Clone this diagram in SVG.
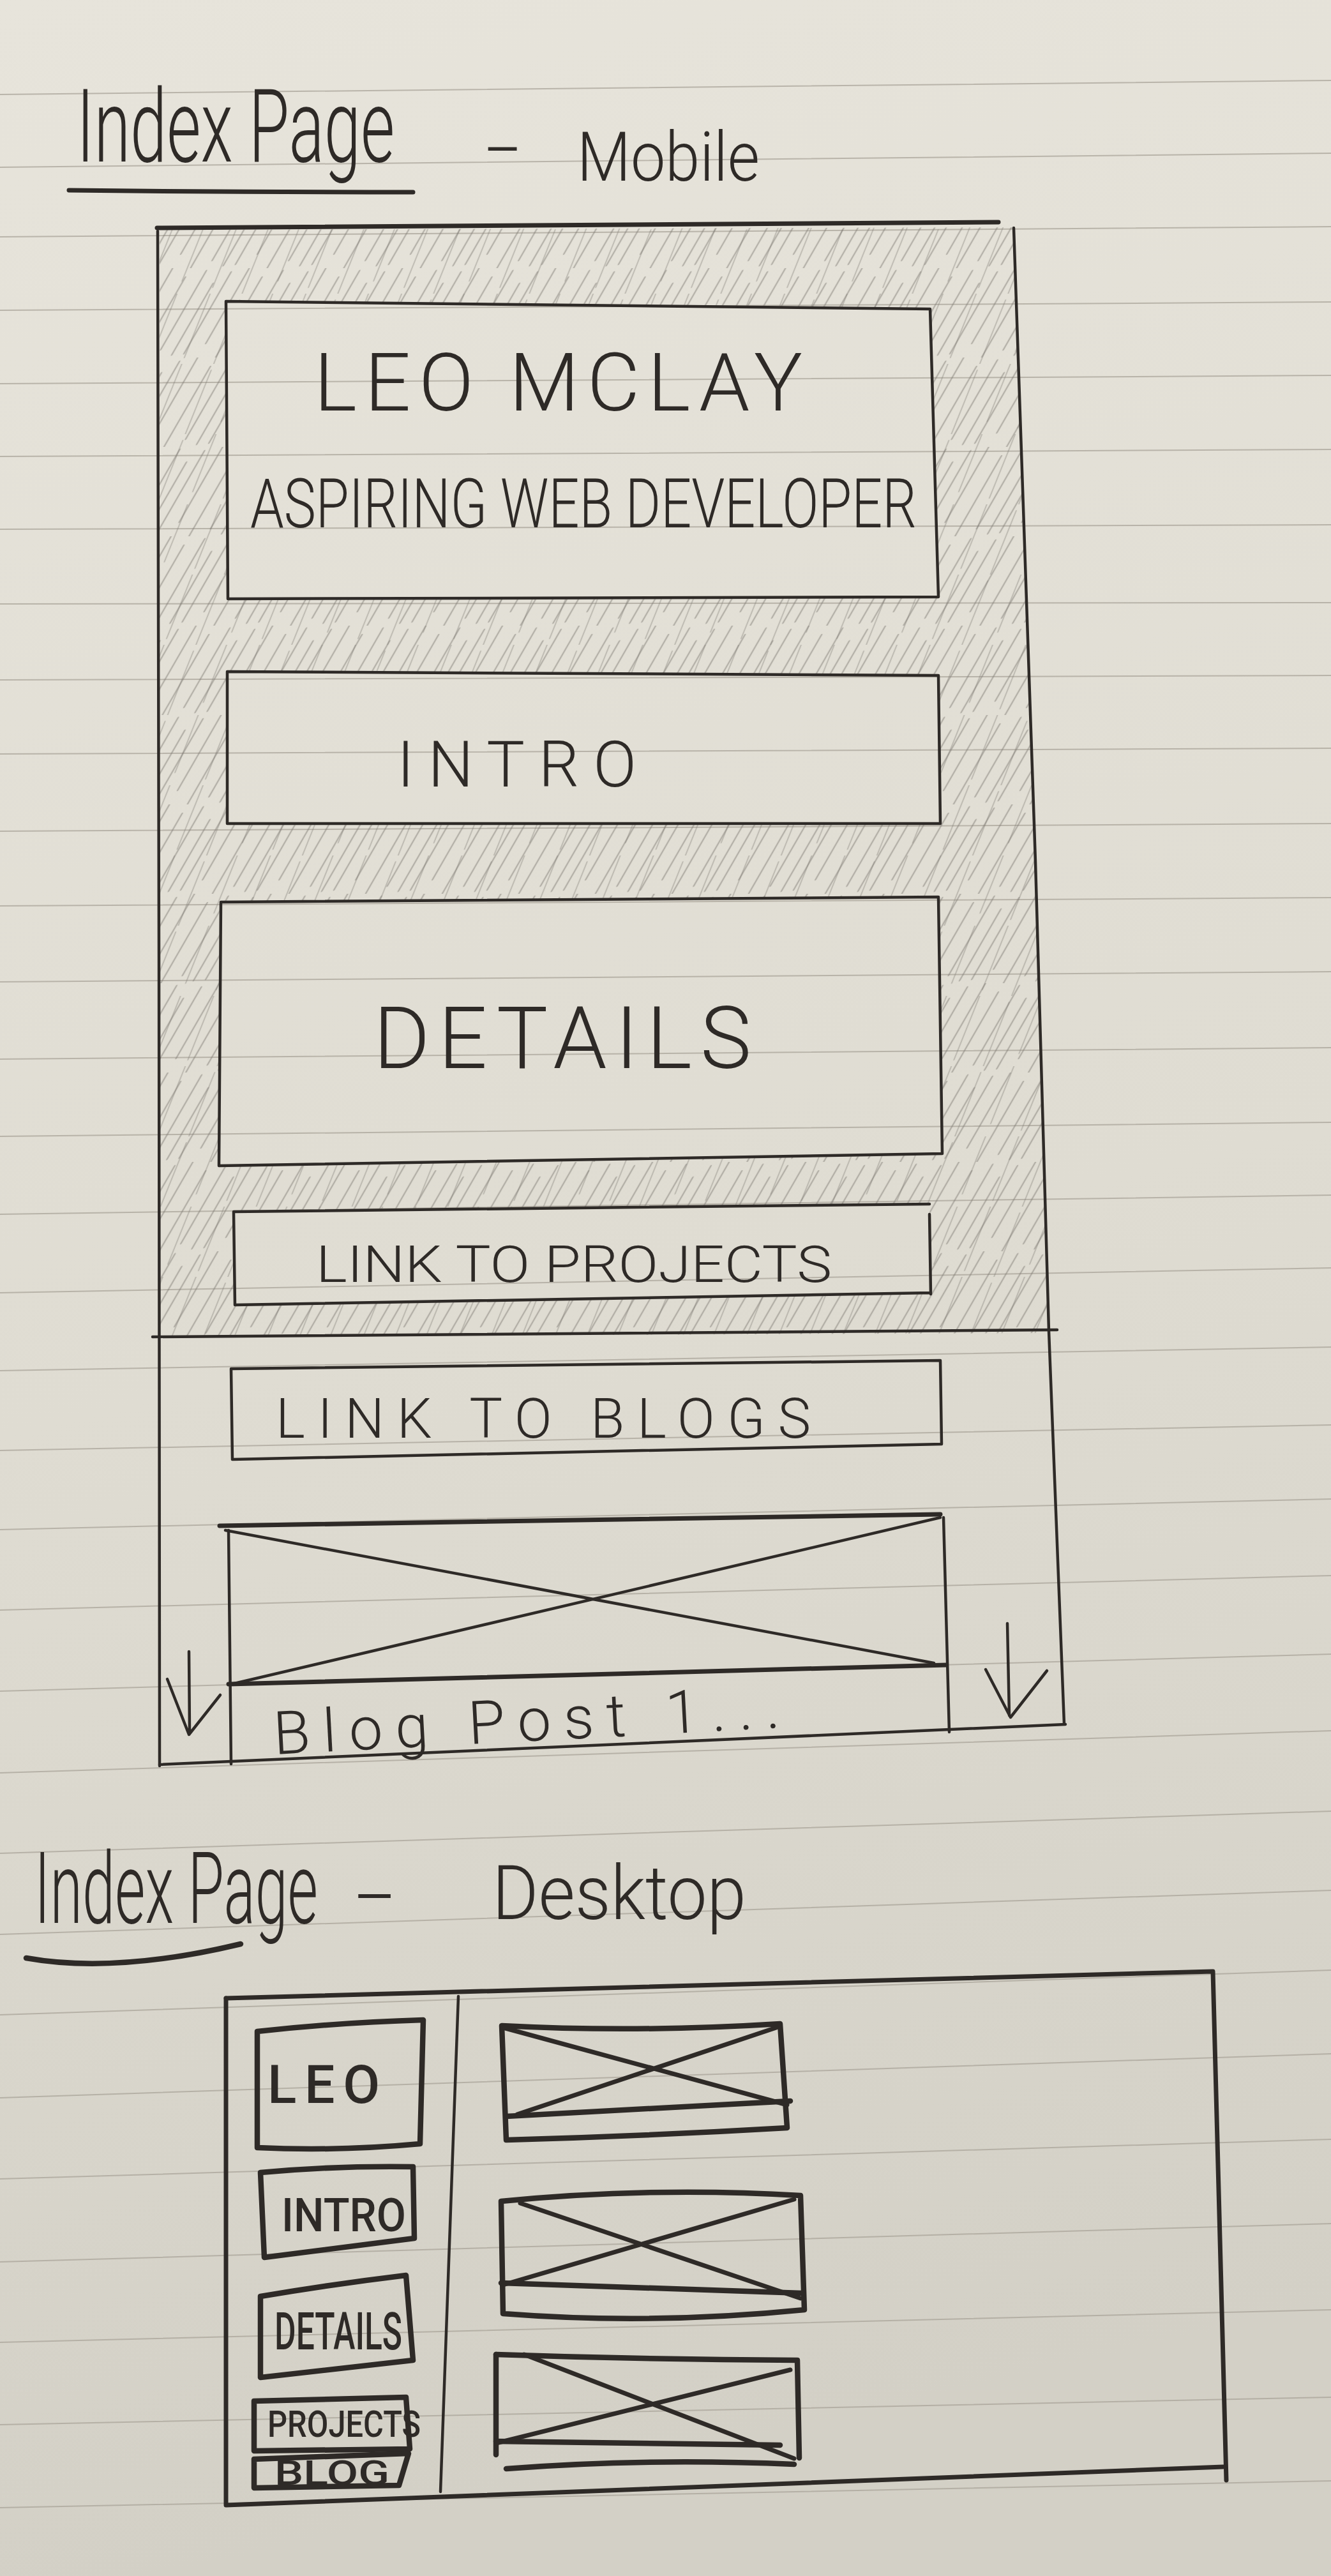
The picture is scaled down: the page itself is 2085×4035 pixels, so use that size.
<svg xmlns="http://www.w3.org/2000/svg" width="2085" height="4035" viewBox="0 0 2085 4035">
  <defs>
    <linearGradient id="paperTone" x1="0" y1="0" x2="0.12" y2="1">
      <stop offset="0" stop-color="#e7e4db"/>
      <stop offset="0.55" stop-color="#dfdcd2"/>
      <stop offset="1" stop-color="#d3d0c6"/>
    </linearGradient>
    <!-- pencil shading: two offset stroke tiles so the texture looks uneven -->
    <pattern id="hatchA" patternUnits="userSpaceOnUse" width="120" height="140" patternTransform="skewX(-30)">
      <path d="M8,6 L8,134 M33,0 L33,118 M61,14 L61,140 M88,4 L88,128 M110,24 L110,136" fill="none" stroke="#7f7b74" stroke-width="2.6" stroke-linecap="round"/>
    </pattern>
    <pattern id="hatchB" patternUnits="userSpaceOnUse" width="150" height="110" patternTransform="translate(37,20) skewX(-22)">
      <path d="M20,0 L20,100 M70,10 L70,110 M118,0 L118,90" fill="none" stroke="#7f7b74" stroke-width="2.2" stroke-linecap="round"/>
    </pattern>
    <clipPath id="shadeArea">
      <path clip-rule="evenodd" d="M250,360 L1588,356 L1622,1350 L1643,2088 L250,2094 Z
        M354,472 L1457,484 L1470,935 L357,938 Z
        M356,1052 L1470,1058 L1473,1290 L356,1290 Z
        M346,1413 L1470,1405 L1476,1807 L343,1826 Z
        M366,1898 L1456,1886 L1458,2025 L368,2044 Z"/>
    </clipPath>
  </defs>
  <style>
    .ink{fill:none;stroke:#2e2a27;stroke-linecap:round;stroke-linejoin:round}
    .fine{stroke-width:4.5}
    .bold{stroke-width:7}
    .marker{stroke-width:8.5}
    .rule{fill:none;stroke:#a9a49a;stroke-width:2;opacity:.75}
    .hand{font-family:Roboto,"Liberation Sans","DejaVu Sans",sans-serif;font-weight:300;fill:#2e2a27}
    .felt{font-family:Roboto,"Liberation Sans","DejaVu Sans",sans-serif;font-weight:500;fill:#2e2a27}
  </style>

  <!-- notebook page -->
  <g id="paper">
    <rect x="0" y="0" width="2085" height="4035" fill="url(#paperTone)"/>
    <path class="rule" d="M0,148 L2085,126 M0,262 L2085,240 M0,371 L2085,355 M0,486 L2085,473 M0,601 L2085,588
      M0,715 L2085,704 M0,829 L2085,822 M0,946 L2085,944 M0,1065 L2085,1058 M0,1181 L2085,1172
      M0,1302 L2085,1290 M0,1419 L2085,1406 M0,1538 L2085,1522 M0,1659 L2085,1641 M0,1780 L2085,1758
      M0,1902 L2085,1872 M0,2025 L2085,1986 M0,2147 L2085,2110 M0,2272 L2085,2232 M0,2396 L2085,2348
      M0,2522 L2085,2468 M0,2649 L2085,2591 M0,2777 L2085,2711 M0,2903 L2085,2837 M0,3030 L2085,2961
      M0,3156 L2085,3086 M0,3286 L2085,3217 M0,3413 L2085,3351 M0,3543 L2085,3483 M0,3669 L2085,3618
      M0,3798 L2085,3755 M0,3928 L2085,3886"/>
  </g>

  <!-- ============ mobile layout ============ -->
  <g id="mobile-title">
    <text class="hand" font-size="160" transform="translate(120 253) scale(0.633 1)" textLength="787" lengthAdjust="spacingAndGlyphs">Index Page</text>
    <text class="hand" x="760" y="268" font-size="110" textLength="55" lengthAdjust="spacingAndGlyphs">-</text>
    <text class="hand" x="904" y="283" font-size="108" textLength="286" lengthAdjust="spacingAndGlyphs">Mobile</text>
    <path class="ink bold" d="M108,298 Q380,301 647,301"/>
  </g>

  <g id="mobile-shading" clip-path="url(#shadeArea)">
    <rect x="230" y="340" width="1430" height="1770" fill="url(#hatchA)" opacity="0.48"/>
    <rect x="230" y="340" width="1430" height="1770" fill="url(#hatchB)" opacity="0.36"/>
  </g>

  <g id="mobile-frame">
    <path class="ink bold" d="M246,357 L1564,348"/>
    <path class="ink fine" d="M247,362 L249,1500 L250,2766"/>
    <path class="ink fine" d="M1588,357 L1622,1350 L1643,2085 L1667,2700"/>
    <path class="ink fine" d="M250,2764 L1669,2701"/>
    <path class="ink fine" d="M239,2094 L1656,2083"/>
  </g>

  <g id="m-header">
    <path class="ink fine" d="M354,472 L1457,484 L1470,935 L357,938 Z"/>
    <text class="hand" x="492" y="643" font-size="127" textLength="765">LEO MCLAY</text>
    <text class="hand" x="392" y="826" font-size="107" textLength="1044" lengthAdjust="spacingAndGlyphs">ASPIRING WEB DEVELOPER</text>
  </g>

  <g id="m-intro">
    <path class="ink fine" d="M356,1052 L1470,1058 L1473,1290 L356,1290 Z"/>
    <text class="hand" x="622" y="1232" font-size="100" textLength="375">INTRO</text>
  </g>

  <g id="m-details">
    <path class="ink fine" d="M346,1413 L1470,1405 L1476,1807 L343,1826 Z"/>
    <text class="hand" x="585" y="1673" font-size="135" textLength="592">DETAILS</text>
  </g>

  <g id="m-projects">
    <path class="ink fine" d="M366,1898 L1456,1886 M1456,1902 L1458,2027 M1458,2025 L368,2044 L366,1898"/>
    <text class="hand" x="495" y="2008" font-size="80" textLength="808" lengthAdjust="spacingAndGlyphs">LINK TO PROJECTS</text>
  </g>

  <g id="m-blogs">
    <path class="ink fine" d="M362,2144 L1473,2131 L1475,2262 L364,2286 Z"/>
    <text class="hand" x="432" y="2252" font-size="87" textLength="838">LINK TO BLOGS</text>
  </g>

  <g id="m-post">
    <path class="ink bold" d="M344,2390 L1473,2372"/>
    <path class="ink bold" d="M358,2638 L1482,2608"/>
    <path class="ink fine" d="M358,2397 L362,2763"/>
    <path class="ink fine" d="M1478,2377 L1487,2713"/>
    <path class="ink fine" d="M353,2397 L1463,2605 M1473,2377 L367,2637"/>
    <text class="hand" x="430" y="2748" font-size="94" textLength="794" transform="rotate(-3 430 2748)">Blog Post 1...</text>
  </g>

  <g id="scroll-arrows">
    <path class="ink fine" d="M296,2587 L297,2713 M262,2630 L296,2717 L345,2655"/>
    <path class="ink fine" d="M1578,2543 L1581,2687 M1544,2615 L1583,2690 L1640,2617"/>
  </g>

  <!-- ============ desktop layout ============ -->
  <g id="desktop-title">
    <text class="hand" font-size="155" transform="translate(54 3012) scale(0.582 1)" textLength="763" lengthAdjust="spacingAndGlyphs">Index Page</text>
    <text class="hand" x="556" y="3008" font-size="120" textLength="62" lengthAdjust="spacingAndGlyphs">-</text>
    <text class="hand" x="771" y="3006" font-size="118" textLength="398" lengthAdjust="spacingAndGlyphs">Desktop</text>
    <path class="ink marker" d="M41,3067 Q180,3092 377,3045"/>
  </g>

  <g id="desktop-frame">
    <path class="ink bold" d="M354,3130 L1900,3088 L1921,3885"/>
    <path class="ink bold" d="M354,3130 L354,3924 L1916,3864"/>
    <path class="ink fine" d="M718,3127 L690,3903"/>
  </g>

  <g id="d-leo">
    <path class="ink marker" d="M403,3182 Q530,3168 663,3164 L658,3358 Q530,3370 403,3364 Z"/>
    <text class="felt" x="419" y="3294" font-size="84" textLength="176">LEO</text>
  </g>
  <g id="d-intro">
    <path class="ink marker" d="M408,3403 Q530,3392 647,3394 L649,3506 L414,3536 Z"/>
    <text class="felt" x="441" y="3495" font-size="72" textLength="195" lengthAdjust="spacingAndGlyphs">INTRO</text>
  </g>
  <g id="d-details">
    <path class="ink marker" d="M408,3597 Q520,3578 636,3564 L647,3697 L408,3724 Z"/>
    <text class="felt" x="430" y="3680" font-size="82" textLength="200" lengthAdjust="spacingAndGlyphs">DETAILS</text>
  </g>
  <g id="d-projects">
    <path class="ink marker" d="M398,3761 L636,3755 L642,3836 L398,3839 Z"/>
    <text class="felt" x="419" y="3817" font-size="58" textLength="240" lengthAdjust="spacingAndGlyphs">PROJECTS</text>
  </g>
  <g id="d-blog">
    <path class="ink marker" d="M398,3852 L640,3843 L625,3893 L398,3897 Z"/>
    <text class="felt" x="430" y="3892" font-size="54" textLength="180" lengthAdjust="spacingAndGlyphs">BLOG</text>
  </g>

  <g id="d-post-1">
    <path class="ink marker" d="M786,3173 Q1000,3184 1222,3170 L1233,3333 Q1010,3346 793,3352 Z"/>
    <path class="ink marker" d="M793,3315 L1238,3291"/>
    <path class="ink bold" d="M788,3176 L1233,3297 M1216,3176 L810,3312"/>
  </g>
  <g id="d-post-2">
    <path class="ink marker" d="M785,3448 Q1020,3425 1254,3439 L1260,3618 Q1020,3642 788,3624 Z"/>
    <path class="ink marker" d="M785,3576 L1257,3592"/>
    <path class="ink bold" d="M815,3451 L1254,3600 M1244,3445 L788,3579"/>
  </g>
  <g id="d-post-3">
    <path class="ink marker" d="M777,3688 Q1010,3696 1249,3697 L1252,3850"/>
    <path class="ink marker" d="M777,3688 L777,3845 M793,3867 Q1010,3850 1244,3860"/>
    <path class="ink marker" d="M777,3824 L1222,3830"/>
    <path class="ink bold" d="M821,3688 L1244,3851 M1238,3712 L777,3827"/>
  </g>
</svg>
